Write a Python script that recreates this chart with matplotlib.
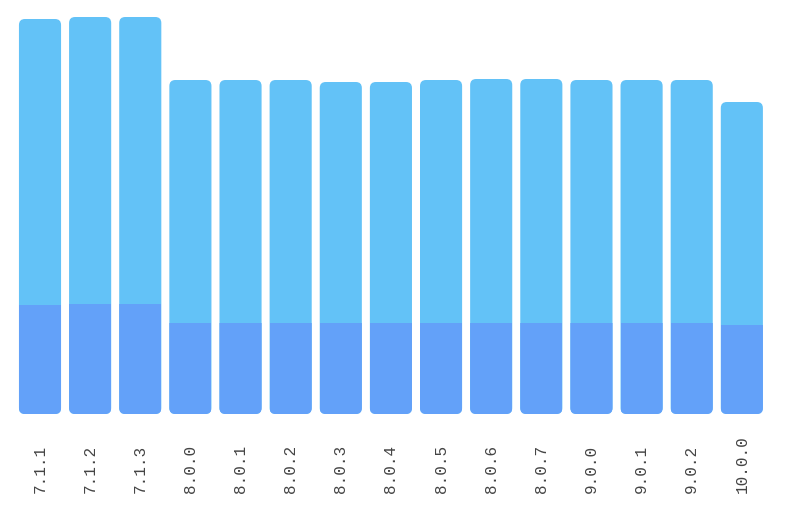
import matplotlib
matplotlib.use("Agg")
import matplotlib.pyplot as plt
from matplotlib.patches import FancyBboxPatch, Rectangle

# versions and stacked values (bottom / top segment)
versions = ["7.1.1", "7.1.2", "7.1.3", "8.0.0", "8.0.1", "8.0.2", "8.0.3", "8.0.4",
            "8.0.5", "8.0.6", "8.0.7", "9.0.0", "9.0.1", "9.0.2", "10.0.0"]
bottom_vals = [109, 110, 110, 91, 91, 91, 91, 91, 91, 91, 91, 91, 91, 91, 89]
top_vals = [286, 287, 287, 243, 243, 243, 241, 241, 243, 244, 244, 243, 243, 243, 223]

bottom_color = "#63a1f9"
top_color = "#63c2f7"

fig = plt.figure(figsize=(8, 5.16), dpi=100)
ax = fig.add_axes([0, 102 / 516, 1, 414 / 516])
ax.set_xlim(-0.798, 15.16)
ax.set_ylim(0, 414)
ax.axis("off")

width = 0.84
radius = 0.12
aspect = 50.14  # y units per x unit, keeps corners round

for i, (v, b, t) in enumerate(zip(versions, bottom_vals, top_vals)):
    total = b + t
    left = i - width / 2
    outline = FancyBboxPatch((left, 0), width, total,
                             boxstyle=f"round,pad=0,rounding_size={radius}",
                             mutation_aspect=aspect,
                             facecolor=top_color, edgecolor="none")
    ax.add_patch(outline)
    low = Rectangle((left, 0), width, b, facecolor=bottom_color, edgecolor="none")
    ax.add_patch(low)
    low.set_clip_path(outline)
    ax.text(i, -79, v, rotation=90, ha="center", va="bottom",
            family="Liberation Mono", fontsize=11.5, color="#444444", clip_on=False)

fig.savefig("out.png", dpi=100)
